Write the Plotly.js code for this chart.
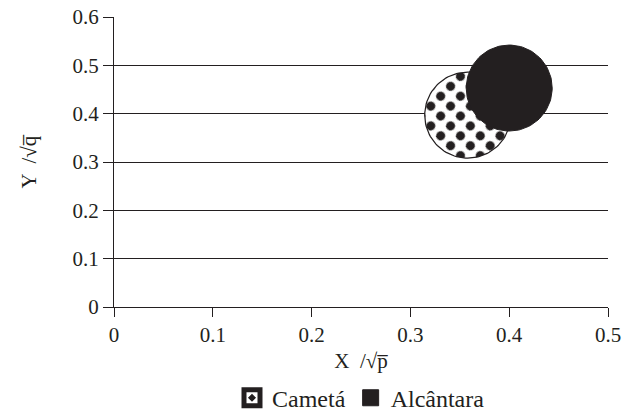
<!DOCTYPE html>
<html><head><meta charset="utf-8">
<script src="https://cdn.plot.ly/plotly-3.0.1.min.js"></script>
<style>body{margin:0;background:#fff}</style>
</head><body><div id="chart" style="width:629px;height:420px"></div>
<script>
const sites = ['Cametá', 'Alcântara'];
const xValues = [0.358, 0.400];
const yValues = [0.397, 0.453];
const xTicks = [0, 0.1, 0.2, 0.3, 0.4, 0.5];
const yTicks = [0, 0.1, 0.2, 0.3, 0.4, 0.5, 0.6];

const W = 629, H = 420, M = {l: 114, r: 21, t: 17, b: 113};
const xRange = [0, 0.5], yRange = [0, 0.6];
const pxX = (W - M.l - M.r) / (xRange[1] - xRange[0]);
const pxY = (H - M.t - M.b) / (yRange[1] - yRange[0]);
const R_PX = 43;
function circle(cx, cy) {
  const xs = [], ys = [];
  for (let i = 0; i <= 120; i++) {
    const a = 2 * Math.PI * i / 120;
    xs.push(cx + R_PX * Math.cos(a) / pxX);
    ys.push(cy + R_PX * Math.sin(a) / pxY);
  }
  return {xs, ys};
}
const c0 = circle(xValues[0], yValues[0]);
const c1 = circle(xValues[1], yValues[1]);
const FONT = 'Liberation Serif';
const TXT = '#231f20';
const traces = [
  {x: c0.xs, y: c0.ys, name: sites[0], type: 'scatter', mode: 'lines', fill: 'toself',
   fillcolor: 'white', line: {color: TXT, width: 1.2},
   fillpattern: {shape: '.', fgcolor: TXT, bgcolor: 'white', size: 14, solidity: 0.33},
   showlegend: false, hoverinfo: 'name'},
  {x: c1.xs, y: c1.ys, name: sites[1], type: 'scatter', mode: 'lines', fill: 'toself',
   fillcolor: TXT, line: {color: TXT, width: 1},
   showlegend: false, hoverinfo: 'name'},
  {x: [null], y: [null], name: sites[0], type: 'scatter', mode: 'markers',
   marker: {symbol: 'square-dot', size: 19, color: 'white', line: {color: TXT, width: 5}}},
  {x: [null], y: [null], name: sites[1], type: 'scatter', mode: 'markers',
   marker: {symbol: 'square', size: 22, color: TXT, line: {color: TXT, width: 1}}}
];
const layout = {
  width: W, height: H,
  margin: M,
  paper_bgcolor: 'white', plot_bgcolor: 'white',
  font: {family: FONT, size: 21, color: TXT},
  showlegend: true,
  legend: {orientation: 'h', x: 0.5, xanchor: 'center', yref: 'container', y: 0.052, yanchor: 'middle',
           font: {family: FONT, size: 24, color: TXT}, itemwidth: 30, traceorder: 'normal',
           itemsizing: 'trace'},
  xaxis: {range: xRange, tickvals: xTicks, ticktext: xTicks.map(String), automargin: false,
          showgrid: false, zeroline: false, showline: true, linecolor: TXT, linewidth: 1,
          ticks: 'outside', ticklen: 9, tickcolor: TXT, tickwidth: 1,
          tickfont: {family: FONT, size: 21, color: TXT},
          title: {text: 'X  /√p\u0305', font: {family: FONT, size: 21, color: TXT}, standoff: 7}},
  yaxis: {range: yRange, tickvals: yTicks, ticktext: yTicks.map(String), automargin: false,
          showgrid: true, gridcolor: TXT, gridwidth: 1, zeroline: false,
          showline: true, linecolor: TXT, linewidth: 1,
          ticks: 'outside', ticklen: 10, tickcolor: TXT, tickwidth: 1,
          tickfont: {family: FONT, size: 21, color: TXT},
          title: {text: 'Y  /√q\u0305', font: {family: FONT, size: 21, color: TXT}, standoff: 30}}
};
Plotly.newPlot('chart', traces, layout, {displayModeBar: false, staticPlot: true}).then(() => {
  document.querySelectorAll('#chart pattern').forEach(p => p.setAttribute('patternTransform', 'rotate(45)'));
});
</script>
</body></html>
